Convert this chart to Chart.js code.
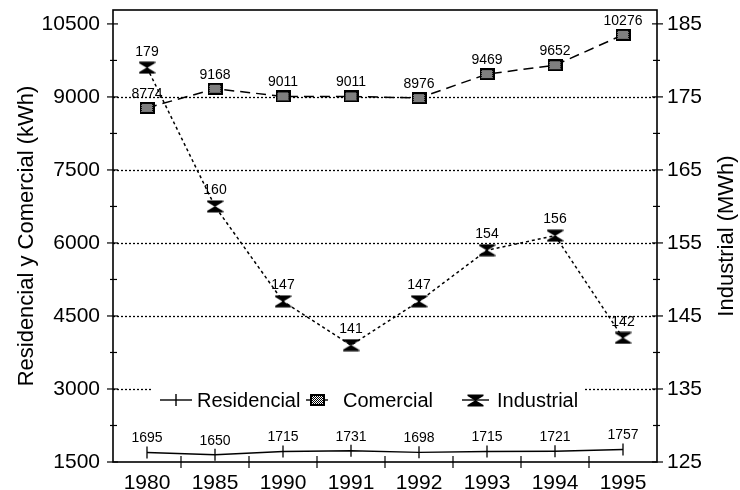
<!DOCTYPE html>
<html>
<head>
<meta charset="utf-8">
<script src="https://cdn.jsdelivr.net/npm/chart.js@4.4.1/dist/chart.umd.min.js"></script>
<style>
  html, body { margin: 0; padding: 0; background: #fff; }
</style>
</head>
<body>
<canvas id="energyChart" width="740" height="490"></canvas>
<script>
// values
const years = ['1980', '1985', '1990', '1991', '1992', '1993', '1994', '1995'];
const residencial = [1695, 1650, 1715, 1731, 1698, 1715, 1721, 1757];
const comercial = [8774, 9168, 9011, 9011, 8976, 9469, 9652, 10276];
const industrial = [179, 160, 147, 141, 147, 154, 156, 142];
const leftTicks = [1500, 3000, 4500, 6000, 7500, 9000, 10500];
const rightTicks = [125, 135, 145, 155, 165, 175, 185];
const gridValues = [3000, 4500, 6000, 7500, 9000];

const FONT = "'Liberation Sans', Arial, sans-serif";
Chart.defaults.font.family = FONT;
Chart.defaults.color = '#000';

// marker for Comercial: small dotted square
const squareMark = document.createElement('canvas');
squareMark.width = 15; squareMark.height = 12;
(() => {
  const c = squareMark.getContext('2d');
  c.fillStyle = '#fff';
  c.fillRect(0, 0, 15, 12);
  c.fillStyle = '#000';
  c.fillRect(0, 0, 15, 2); c.fillRect(0, 10, 15, 2);
  c.fillRect(0, 0, 2, 12); c.fillRect(13, 0, 2, 12);
  for (let y = 2; y < 10; y++) {
    for (let x = 2 + (y % 2); x < 13; x += 2) c.fillRect(x, y, 1, 1);
  }
})();

// marker for Industrial: hourglass
const glassMark = document.createElement('canvas');
glassMark.width = 17; glassMark.height = 13;
(() => {
  const c = glassMark.getContext('2d');
  c.fillStyle = '#000';
  c.beginPath();
  c.moveTo(0.5, 0.5); c.lineTo(16.5, 0.5); c.lineTo(16.5, 2); c.lineTo(9, 6.5);
  c.lineTo(16.5, 11); c.lineTo(16.5, 12.5); c.lineTo(0.5, 12.5); c.lineTo(0.5, 11);
  c.lineTo(8, 6.5); c.lineTo(0.5, 2);
  c.closePath();
  c.fill();
})();

const frameAndTicks = {
  id: 'frameAndTicks',
  beforeDatasetsDraw(chart) {
    const { ctx, chartArea: a, scales } = chart;
    const y = scales.y, y1 = scales.y1, x = scales.x;
    ctx.save();
    ctx.strokeStyle = '#000';
    // dotted grid
    ctx.lineWidth = 1.3;
    ctx.setLineDash([2, 2]);
    gridValues.forEach(v => {
      const py = Math.round(y.getPixelForValue(v)) + 0.5;
      ctx.beginPath(); ctx.moveTo(a.left, py); ctx.lineTo(a.right, py); ctx.stroke();
    });
    ctx.setLineDash([]);
    // frame
    ctx.lineWidth = 1.6;
    ctx.strokeRect(a.left, a.top, a.right - a.left, a.bottom - a.top);
    ctx.lineWidth = 1.2;
    const tick = (x0, y0, x1, y1_) => { ctx.beginPath(); ctx.moveTo(x0, y0); ctx.lineTo(x1, y1_); ctx.stroke(); };
    // left axis ticks
    leftTicks.forEach((v, i) => {
      const py = y.getPixelForValue(v);
      tick(a.left - 6, py, a.left + 5, py);
      if (i < leftTicks.length - 1) {
        const pm = y.getPixelForValue((v + leftTicks[i + 1]) / 2);
        tick(a.left - 3, pm, a.left + 4, pm);
      }
    });
    // right axis ticks
    rightTicks.forEach((v, i) => {
      const py = y1.getPixelForValue(v);
      tick(a.right - 5, py, a.right + 6, py);
      if (i < rightTicks.length - 1) {
        const pm = y1.getPixelForValue((v + rightTicks[i + 1]) / 2);
        tick(a.right - 4, pm, a.right + 3, pm);
      }
    });
    // x ticks between categories
    for (let i = 0; i < years.length - 1; i++) {
      const px = (x.getPixelForTick(i) + x.getPixelForTick(i + 1)) / 2;
      tick(px, a.bottom - 6, px, a.bottom + 6);
    }
    ctx.restore();
  }
};

// right axis title reads bottom-to-top like the left one
const rightTitle = {
  id: 'rightTitle',
  afterDraw(chart) {
    const { ctx, chartArea: a } = chart;
    ctx.save();
    ctx.translate(727, (a.top + a.bottom) / 2);
    ctx.rotate(-Math.PI / 2);
    ctx.font = '22px ' + FONT;
    ctx.fillStyle = '#000';
    ctx.textAlign = 'center';
    ctx.textBaseline = 'middle';
    ctx.fillText('Industrial (MWh)', 0, 0);
    ctx.restore();
  }
};

const legendBox = {
  id: 'legendBox',
  afterDatasetsDraw(chart) {
    const { ctx } = chart;
    const cy = 400;
    const items = [
      { x0: 160, x1: 192, tx: 197, mark: 'tick' },
      { x0: 306, x1: 328, tx: 343, mark: squareMark },
      { x0: 462, x1: 489, tx: 497, mark: glassMark }
    ];
    ctx.save();
    ctx.fillStyle = '#fff';
    ctx.fillRect(153, 386, 432, 28);
    ctx.strokeStyle = '#000';
    ctx.fillStyle = '#000';
    ctx.lineWidth = 1.4;
    ctx.font = '20px ' + FONT;
    ctx.textBaseline = 'middle';
    items.forEach((it, i) => {
      ctx.beginPath(); ctx.moveTo(it.x0, cy); ctx.lineTo(it.x1, cy); ctx.stroke();
      const mx = (it.x0 + it.x1) / 2;
      if (it.mark === 'tick') {
        ctx.beginPath(); ctx.moveTo(mx, cy - 6); ctx.lineTo(mx, cy + 6); ctx.stroke();
      } else {
        ctx.drawImage(it.mark, Math.round(mx - it.mark.width / 2), Math.round(cy - it.mark.height / 2));
      }
      ctx.fillText(chart.data.datasets[i].label, it.tx, cy + 1);
    });
    ctx.restore();
  }
};

const valueLabels = {
  id: 'valueLabels',
  afterDatasetsDraw(chart) {
    const { ctx } = chart;
    const offsets = [14, 14, 16];
    ctx.save();
    ctx.fillStyle = '#000';
    ctx.font = '14px ' + FONT;
    ctx.textAlign = 'center';
    ctx.textBaseline = 'middle';
    chart.data.datasets.forEach((ds, di) => {
      chart.getDatasetMeta(di).data.forEach((pt, i) => {
        ctx.fillText(String(ds.data[i]), pt.x, pt.y - offsets[di]);
      });
    });
    ctx.restore();
  }
};

const noPad = (s) => { s.paddingTop = 0; s.paddingBottom = 0; s.paddingLeft = 0; s.paddingRight = 0; };

const ctx = document.getElementById('energyChart').getContext('2d');
const energyChart = new Chart(ctx, {
  type: 'line',
  data: {
    labels: years,
    datasets: [
      {
        label: 'Residencial',
        data: residencial,
        yAxisID: 'y',
        borderColor: '#000',
        borderWidth: 1.4,
        pointStyle: 'line',
        rotation: 90,
        pointRadius: 6,
        pointBorderWidth: 1.3,
        pointBorderColor: '#000',
        tension: 0
      },
      {
        label: 'Comercial',
        data: comercial,
        yAxisID: 'y',
        borderColor: '#000',
        borderWidth: 1.5,
        borderDash: [10, 6],
        pointStyle: squareMark,
        tension: 0
      },
      {
        label: 'Industrial',
        data: industrial,
        yAxisID: 'y1',
        borderColor: '#000',
        borderWidth: 1.5,
        borderDash: [3, 3],
        pointStyle: glassMark,
        tension: 0
      }
    ]
  },
  options: {
    responsive: false,
    animation: false,
    layout: { padding: { top: 10, left: 0, right: 0, bottom: 0 } },
    plugins: {
      legend: { display: false },
      tooltip: { enabled: false }
    },
    scales: {
      x: {
        offset: true,
        grid: { display: false },
        border: { display: false },
        ticks: { font: { size: 21 }, padding: 1, maxRotation: 0, color: '#000' },
        afterFit: (s) => { s.height = 28; noPad(s); }
      },
      y: {
        position: 'left',
        min: 1500,
        max: 10786,
        grid: { display: false },
        border: { display: false },
        afterBuildTicks: (s) => { s.ticks = leftTicks.map(v => ({ value: v })); },
        ticks: { font: { size: 21 }, padding: 5, color: '#000', callback: (v) => String(v) },
        title: {
          display: true,
          text: 'Residencial y Comercial (kWh)',
          font: { size: 22 },
          color: '#000',
          padding: { top: 14, bottom: 0 }
        },
        afterFit: (s) => { s.width = 113; noPad(s); }
      },
      y1: {
        position: 'right',
        min: 125,
        max: 186.9,
        grid: { display: false },
        border: { display: false },
        afterBuildTicks: (s) => { s.ticks = rightTicks.map(v => ({ value: v })); },
        ticks: { font: { size: 21 }, padding: 2, color: '#000', callback: (v) => String(v) },
        afterFit: (s) => { s.width = 83; noPad(s); }
      }
    }
  },
  plugins: [
    { id: 'whiteBg', beforeDraw(c) { c.ctx.save(); c.ctx.fillStyle = '#fff'; c.ctx.fillRect(0, 0, c.width, c.height); c.ctx.restore(); } },
    frameAndTicks, legendBox, valueLabels, rightTitle
  ]
});
</script>
</body>
</html>
